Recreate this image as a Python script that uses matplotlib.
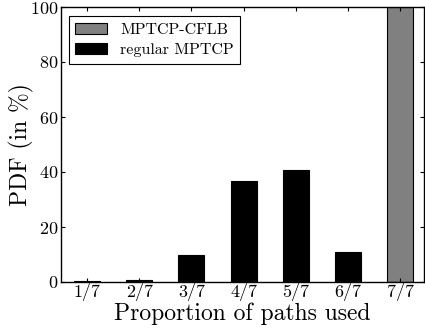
import numpy as np
import matplotlib
matplotlib.use('Agg')
import matplotlib.pyplot as plt

plt.rcParams['font.family'] = 'serif'
plt.rcParams['font.serif'] = ['cmr10']
plt.rcParams['mathtext.fontset'] = 'cm'
plt.rcParams['axes.unicode_minus'] = False
plt.rcParams['axes.formatter.use_mathtext'] = True

# data
labels = ['1/7', '2/7', '3/7', '4/7', '5/7', '6/7', '7/7']
regular = [0.3, 0.7, 9.7, 36.8, 40.8, 10.9, 0.0]
cflb = [0, 0, 0, 0, 0, 0, 100.0]

pos = np.arange(1, len(labels) + 1)

fig = plt.figure(figsize=(4.25, 3.29), dpi=100)
ax = fig.add_axes([61 / 425., 1 - 282 / 329., 363 / 425., 275 / 329.])

ax.bar(pos, cflb, width=0.5, color='#808080', edgecolor='black',
       linewidth=0.8, label='MPTCP-CFLB')
ax.bar(pos, regular, width=0.5, color='black', edgecolor='black',
       linewidth=0.8, label='regular MPTCP')

ax.set_xlim(0.5, 7.46)
ax.set_ylim(0, 100)
ax.set_xticks(pos)
ax.set_xticklabels(labels)
ax.set_yticks([0, 20, 40, 60, 80, 100])
ax.tick_params(direction='in', top=True, right=True, length=3,
               labelsize=13, pad=2)
ax.tick_params(axis='x', pad=1)
for s in ax.spines.values():
    s.set_linewidth(1.0)

ax.set_xlabel('Proportion of paths used', fontsize=17, labelpad=0.5)
ax.set_ylabel('PDF (in %)', fontsize=17, labelpad=-3)

leg = ax.legend(loc='upper left', fontsize=11.5, fancybox=False,
                edgecolor='black', framealpha=1, handlelength=2.0,
                handleheight=0.75, borderpad=0.4, labelspacing=0.35,
                handletextpad=0.8, bbox_to_anchor=(0.0, 0.995))
leg.get_frame().set_linewidth(0.8)

fig.savefig('out.png', dpi=100)
